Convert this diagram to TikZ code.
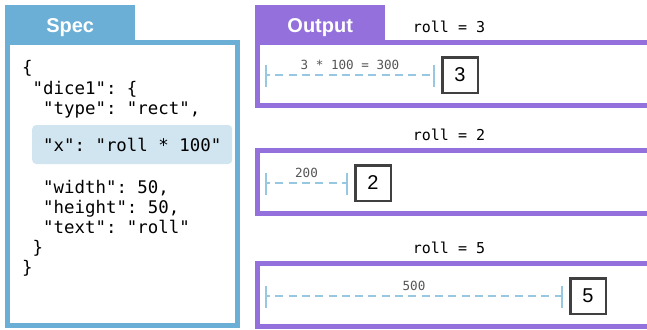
\documentclass[tikz,border=0pt]{standalone}
\usepackage{fontspec}
\setmainfont{Liberation Sans}
\setmonofont{DejaVu Sans Mono}
\usetikzlibrary{positioning}
\definecolor{azulSpec}{HTML}{6BAED6}
\definecolor{moradoOut}{HTML}{9370DB}
\definecolor{fondoResalte}{HTML}{D1E5F0}
\definecolor{azulCota}{HTML}{98C7E2}
\definecolor{grisDado}{HTML}{404040}
\definecolor{grisCota}{HTML}{555555}

\begin{document}
\begin{tikzpicture}[x=1pt, y=-1pt,
        tab/.style={fill=#1, anchor=north west, minimum width=130pt, minimum height=35pt,
            inner sep=0pt, text=white, text height=13pt, text depth=0pt,
            font=\bfseries\fontsize{20}{20}\selectfont},
        panel/.style={draw=#1, line width=5pt},
        code/.style={anchor=base west, inner sep=0pt, font=\ttfamily\fontsize{17.4}{20}\selectfont},
        resalte/.style={fill=fondoResalte, rounded corners=4pt, minimum width=200pt,
            minimum height=39pt, inner sep=0pt, font=\ttfamily\fontsize{17.4}{20}\selectfont},
        rollLbl/.style={font=\ttfamily\fontsize{15}{15}\selectfont},
        cota/.style={azulCota, line width=2.5pt, dash pattern=on 8pt off 5.3pt, dash phase=4pt},
        tope/.style={azulCota, line width=2.5pt},
        etiqueta/.style={text=grisCota, inner sep=1pt, font=\ttfamily\fontsize{12.6}{12.6}\selectfont},
        dado/.style={draw=grisDado, line width=2.5pt, minimum size=35.5pt, inner sep=0pt,
            font=\fontsize{20}{20}\selectfont}]
    \useasboundingbox (0,0) rectangle (647,329);
    % Spec
    \node[tab=azulSpec] (specTab) at (5,5) {\raisebox{-3pt}{Spec}};
    \draw[panel=azulSpec] (7.5,42.5) rectangle (237.5,325.5);
    \foreach \yy/\ind/\txt [count=\i] in {74/0/\{, 94/1/{"dice1": \{}, 114/2/{"type": "rect",},
            193/2/{"width": 50,}, 213/2/{"height": 50,}, 233/2/{"text": "roll"}, 253/1/\}, 273/0/\}}
        \node[code] (linea\i) at (22+10.5*\ind,\yy) {\txt};
    \node[resalte, anchor=west] (lineaX) at (32,144.5) {"x": "roll * 100"};
    % Output
    \node[tab=moradoOut] (outTab) at (255,5) {\raisebox{-3pt}{Output}};
    \foreach \yt/\n/\xfin/\etq in {40/3/434/{3 * 100 = 300}, 148/2/347/200, 261/5/562/500} {
        \draw[panel=moradoOut] (257.5,\yt+2.5) rectangle (700,\yt+65.5);
        \node[rollLbl] (roll\n) at (449,\yt-13) {roll = \n};
        \coordinate (ini\n) at (266,\yt+35);
        \coordinate (fin\n) at (\xfin,\yt+35);
        \draw[cota] (ini\n) -- node[etiqueta, above=3pt] {\etq} (fin\n);
        \draw[tope] ([yshift=10pt]ini\n) -- ([yshift=-12pt]ini\n);
        \draw[tope] ([yshift=10pt]fin\n) -- ([yshift=-12pt]fin\n);
        \node[dado, right=7pt of fin\n] (dado\n) {\n};
    }
\end{tikzpicture}
\end{document}
